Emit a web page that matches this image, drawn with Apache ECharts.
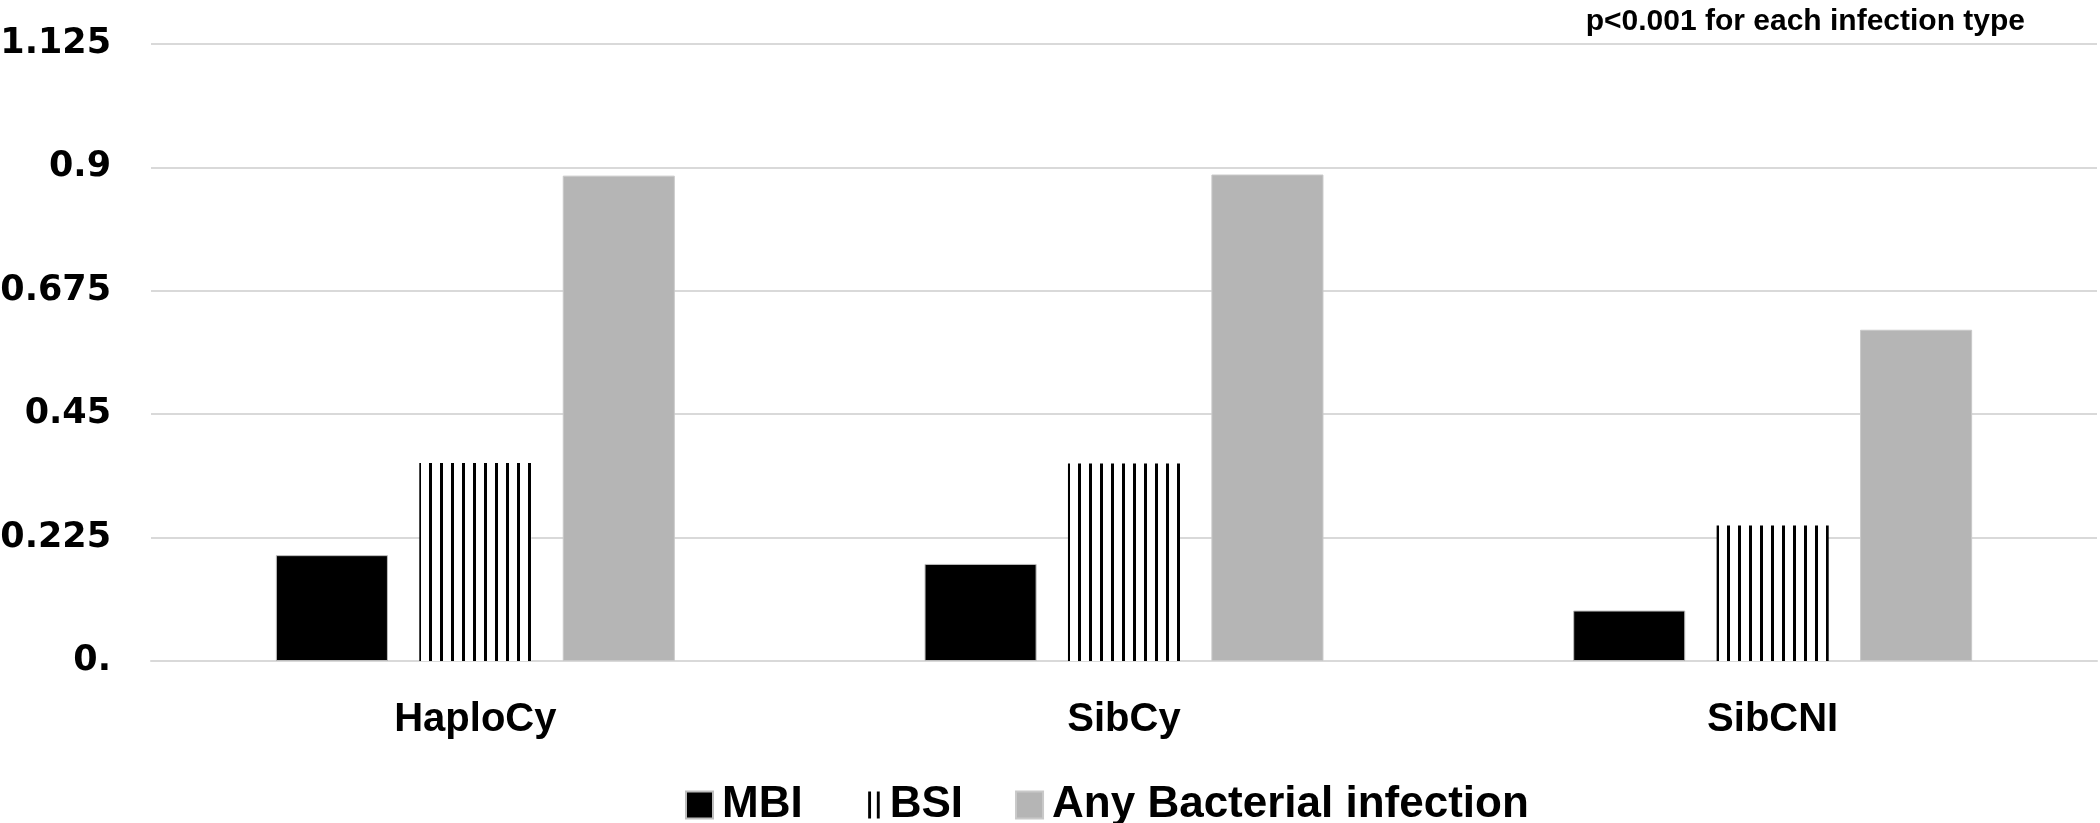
<!DOCTYPE html>
<html>
<head>
<meta charset="utf-8">
<script src="https://cdn.jsdelivr.net/npm/echarts@6/dist/echarts.min.js"></script>
<style>
html,body{margin:0;padding:0;background:#fff;}
#chart{width:2100px;height:823px;}
</style>
</head>
<body>
<div id="chart"></div>
<script>
const categories = ['HaploCy', 'SibCy', 'SibCNI'];
const mbiValues = [0.193, 0.177, 0.092];
const bsiValues = [0.361, 0.360, 0.247];
const anyValues = [0.885, 0.887, 0.604];
const seriesNames = ['MBI', 'BSI', 'Any Bacterial infection'];
const yTicks = [0, 0.225, 0.45, 0.675, 0.9, 1.125];
const note = 'p<0.001 for each infection type';

function stripePattern() {
  const c = document.createElement('canvas');
  c.width = 11; c.height = 11;
  const ctx = c.getContext('2d');
  ctx.fillStyle = '#ffffff';
  ctx.fillRect(0, 0, 11, 11);
  ctx.fillStyle = '#000000';
  ctx.fillRect(0, 0, 3, 11);
  return c;
}

const chart = echarts.init(document.getElementById('chart'), null, {renderer: 'canvas'});
const labelFont = "'Liberation Sans', Arial, sans-serif";
const legendText = {fontFamily: labelFont, fontWeight: 'bold', fontSize: 44, color: '#000', padding: [0, 0, 0, 4]};
chart.setOption({
  animation: false,
  backgroundColor: '#ffffff',
  title: {
    text: note,
    right: 70,
    top: 2,
    textStyle: {fontFamily: labelFont, fontWeight: 'bold', fontSize: 30, color: '#000'}
  },
  legend: {
    left: 680,
    top: 778,
    itemWidth: 27,
    itemHeight: 27,
    itemGap: 52,
    icon: 'rect',
    textStyle: legendText,
    data: [
      {name: seriesNames[0]},
      {name: seriesNames[1], icon: 'path://M0,27.9H0.1V28H0Z M14,0H17V28H14Z M23,0H26V28H23Z',
        itemStyle: {color: '#000000', borderWidth: 0}},
      {name: seriesNames[2]}
    ]
  },
  grid: {left: 151, right: 3, top: 44, bottom: 162, containLabel: false, outerBoundsMode: 'none'},
  xAxis: {
    type: 'category',
    data: categories,
    axisLine: {lineStyle: {color: '#d9d9d9', width: 2}},
    axisTick: {show: false},
    axisLabel: {margin: 39, fontFamily: labelFont, fontWeight: 'bold', fontSize: 40, color: '#000'}
  },
  yAxis: {
    type: 'value',
    min: yTicks[0],
    max: yTicks[yTicks.length - 1],
    interval: yTicks[1] - yTicks[0],
    axisLine: {show: false},
    axisTick: {show: false},
    splitLine: {lineStyle: {color: '#d9d9d9', width: 2}},
    axisLabel: {
      margin: 40,
      fontFamily: "'DejaVu Sans', sans-serif",
      fontWeight: 'bold',
      fontSize: 35,
      color: '#000',
      formatter: v => (v === 0 ? '0.' : String(+v.toFixed(3)))
    }
  },
  series: [
    {
      name: seriesNames[0], type: 'bar', data: mbiValues,
      barGap: '28%', barCategoryGap: '38.5%',
      itemStyle: {color: '#000000', borderColor: '#bdbdbd', borderWidth: 1}
    },
    {
      name: seriesNames[1], type: 'bar', data: bsiValues,
      barGap: '28%', barCategoryGap: '38.5%',
      itemStyle: {color: {image: stripePattern(), repeat: 'repeat'}}
    },
    {
      name: seriesNames[2], type: 'bar', data: anyValues,
      barGap: '28%', barCategoryGap: '38.5%',
      itemStyle: {color: '#b5b5b5', borderColor: '#c9c9c9', borderWidth: 1}
    }
  ]
});
</script>
</body>
</html>
